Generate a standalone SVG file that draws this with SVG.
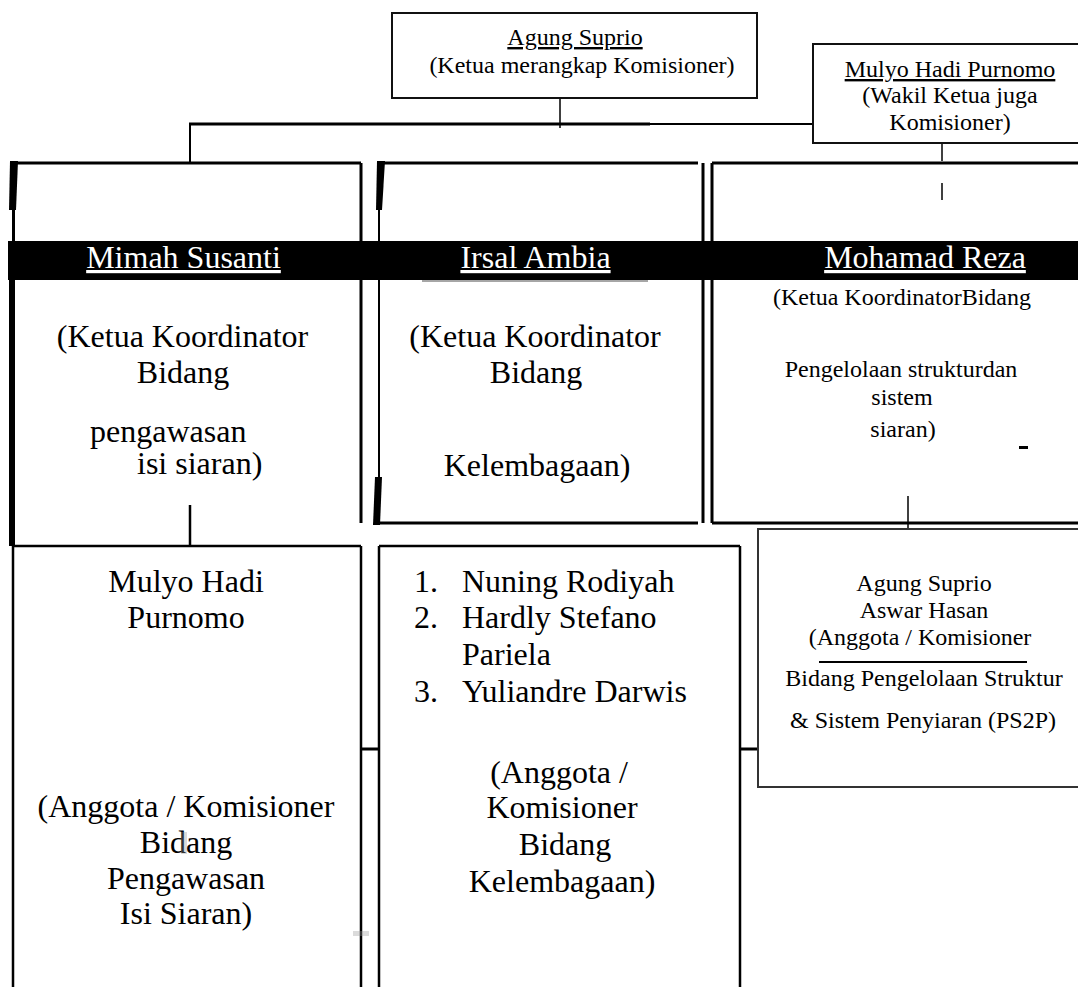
<svg xmlns="http://www.w3.org/2000/svg" width="1078" height="987" viewBox="0 0 1078 987">
<style>
text{font-family:"Liberation Serif","Times New Roman",serif;fill:#000}
.m{font-size:24px;text-anchor:middle}
.l{font-size:32px;text-anchor:middle}
.ls{font-size:32px}
.w{fill:#fff;text-decoration:underline}
.u{text-decoration:underline}
.e{fill:none;stroke:#000;stroke-width:3}
.t{fill:none;stroke:#000;stroke-width:2.5}
.b{fill:none;stroke:#111;stroke-width:2}
.c{fill:none;stroke:#000}
</style>
<rect width="1078" height="987" fill="#fff"/>
<g id="connectors">
<line class="c" x1="560" y1="98" x2="560" y2="128" stroke-width="1.5"/>
<line class="c" x1="189" y1="124" x2="650" y2="124" stroke-width="3"/>
<line class="c" x1="650" y1="124" x2="813" y2="124" stroke-width="2"/>
<line class="c" x1="190" y1="124" x2="190" y2="163" stroke-width="2"/>
<line class="c" x1="942" y1="143" x2="942" y2="161" stroke-width="1.5"/>
<line class="c" x1="942" y1="183" x2="942" y2="200" stroke-width="1.5"/>
<line class="c" x1="190" y1="505" x2="190" y2="546" stroke-width="2.5"/>
<line class="c" x1="908" y1="496" x2="908" y2="529" stroke-width="1.5"/>
<line class="c" x1="361" y1="749" x2="379" y2="749" stroke-width="3"/>
<line class="c" x1="740" y1="749" x2="758" y2="749" stroke-width="3"/>
</g>
<g id="n-agung">
<rect class="b" x="392" y="13" width="365" height="85"/>
<text class="m u" x="575" y="45">Agung Suprio</text>
<text class="m" x="582" y="73">(Ketua merangkap Komisioner)</text>
</g>
<g id="n-mulyo">
<rect class="b" x="813" y="44" width="300" height="99"/>
<text class="m u" x="950" y="77">Mulyo Hadi Purnomo</text>
<text class="m" x="950" y="103">(Wakil Ketua juga</text>
<text class="m" x="950" y="130">Komisioner)</text>
</g>
<g id="n-mimah">
<path class="e" d="M13 163H361M361 163V523"/>
<polygon points="10,161 18,161 16,210 9,210"/>
<line class="c" x1="13.5" y1="210" x2="13.5" y2="241" stroke-width="3"/>
<rect x="9" y="241" width="6" height="305"/>
<rect x="8" y="241" width="363" height="39"/>
<text class="l w" x="183.5" y="268">Mimah Susanti</text>
<text class="l" x="182.5" y="347">(Ketua Koordinator</text>
<text class="l" x="183" y="383">Bidang</text>
<text class="ls" x="90" y="442">pengawasan</text>
<text class="ls" x="137" y="474">isi siaran)</text>
</g>
<g id="n-irsal">
<path class="e" d="M383 163H698M375 523H698M703 163V523"/>
<polygon points="377,161 385,161 382,210 376,210"/>
<line class="c" x1="379" y1="210" x2="379" y2="478" stroke-width="2"/>
<polygon points="375,477 382,477 380,525 373,525"/>
<rect x="371" y="241" width="337" height="39"/>
<line x1="422" y1="281" x2="648" y2="281" stroke="#888" stroke-width="1.5"/>
<text class="l w" x="535.5" y="268">Irsal Ambia</text>
<text class="l" x="535" y="347">(Ketua Koordinator</text>
<text class="l" x="536" y="383">Bidang</text>
<text class="l" x="537" y="476">Kelembagaan)</text>
</g>
<g id="n-reza">
<path class="e" d="M712 163V523M712 163H1080M712 523H1080"/>
<rect x="708" y="241" width="370" height="39"/>
<text class="l w" x="925" y="268">Mohamad Reza</text>
<text class="m" x="902" y="305">(Ketua KoordinatorBidang</text>
<text class="m" x="901" y="377">Pengelolaan strukturdan</text>
<text class="m" x="902" y="405">sistem</text>
<text class="m" x="903" y="437">siaran)</text>
<rect x="1019" y="446" width="9" height="3"/>
</g>
<g id="n-mimah-members">
<path class="t" d="M13 546H361M13 546V990M361 546V990"/>
<text class="l" x="186" y="592">Mulyo Hadi</text>
<text class="l" x="186" y="628">Purnomo</text>
<text class="l" x="186" y="817">(Anggota / Komisioner</text>
<text class="l" x="186" y="853">Bidang</text>
<text class="l" x="186" y="889">Pengawasan</text>
<text class="l" x="186" y="924">Isi Siaran)</text>
<rect x="181" y="832" width="6" height="22" fill="#999" opacity="0.35"/>
<rect x="353" y="931" width="16" height="5" fill="#999" opacity="0.35"/>
</g>
<g id="n-irsal-members">
<path class="t" d="M379 546H740M379 546V990M740 546V990"/>
<text class="ls" x="414" y="592">1.</text>
<text class="ls" x="462" y="592">Nuning Rodiyah</text>
<text class="ls" x="414" y="628">2.</text>
<text class="ls" x="462" y="628">Hardly Stefano</text>
<text class="ls" x="462" y="665">Pariela</text>
<text class="ls" x="414" y="702">3.</text>
<text class="ls" x="462" y="702">Yuliandre Darwis</text>
<text class="l" x="559" y="783">(Anggota /</text>
<text class="l" x="562" y="818">Komisioner</text>
<text class="l" x="565" y="855">Bidang</text>
<text class="l" x="562" y="892">Kelembagaan)</text>
</g>
<g id="n-reza-members">
<rect x="758" y="529" width="340" height="258" fill="none" stroke="#333" stroke-width="2"/>
<text class="m" x="924" y="591">Agung Suprio</text>
<text class="m" x="924" y="618">Aswar Hasan</text>
<text class="m" x="920" y="645">(Anggota / Komisioner</text>
<line x1="819" y1="662" x2="1027" y2="662" stroke="#000" stroke-width="2"/>
<text class="m" x="924" y="686">Bidang Pengelolaan Struktur</text>
<text class="m" x="923" y="728">&amp; Sistem Penyiaran (PS2P)</text>
</g>
</svg>
